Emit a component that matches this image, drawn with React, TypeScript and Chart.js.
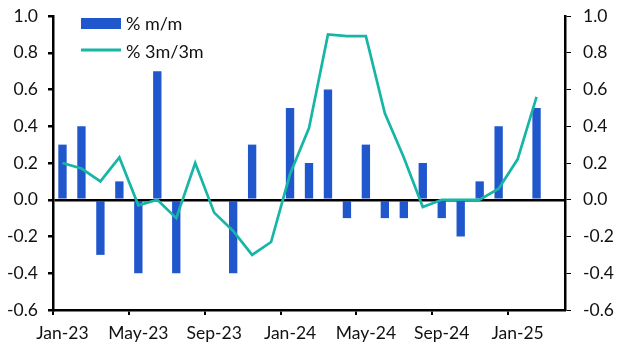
import React, { useEffect, useRef } from "react";
import { Chart, registerables } from "chart.js";

Chart.register(...registerables);

const months = [
  "Jan-23", "Feb-23", "Mar-23", "Apr-23", "May-23", "Jun-23", "Jul-23", "Aug-23", "Sep-23",
  "Oct-23", "Nov-23", "Dec-23", "Jan-24", "Feb-24", "Mar-24", "Apr-24", "May-24", "Jun-24",
  "Jul-24", "Aug-24", "Sep-24", "Oct-24", "Nov-24", "Dec-24", "Jan-25", "Feb-25", "Mar-25",
];

const momValues = [
  0.3, 0.4, -0.3, 0.1, -0.4, 0.7, -0.4, 0.0, 0.0,
  -0.4, 0.3, 0.0, 0.5, 0.2, 0.6, -0.1, 0.3, -0.1,
  -0.1, 0.2, -0.1, -0.2, 0.1, 0.4, 0.0, 0.5, null,
];

const threeMValues = [
  0.2, 0.17, 0.1, 0.23, -0.03, 0.0, -0.1, 0.2, -0.07,
  -0.17, -0.3, -0.23, 0.14, 0.39, 0.9, 0.89, 0.89, 0.47,
  0.23, -0.04, 0.0, 0.0, 0.0, 0.06, 0.22, 0.56, null,
];

const shownXLabels = ["Jan-23", "May-23", "Sep-23", "Jan-24", "May-24", "Sep-24", "Jan-25"];
const yMin = -0.6;
const yMax = 1.0;
const yStep = 0.2;

const seriesNames = ["% m/m", "% 3m/3m"];
const BLUE = "#2057CC";
const TEAL = "#17B5A6";
const FONT = "Lato";

const legendPlugin = {
  id: "customLegend",
  afterDraw(chart: any) {
    const { ctx, chartArea } = chart;
    const x = chartArea.left + 28;
    const y = chartArea.top;
    ctx.save();
    ctx.fillStyle = BLUE;
    ctx.fillRect(x, y + 2, 40, 11);
    ctx.strokeStyle = TEAL;
    ctx.lineWidth = 3;
    ctx.beginPath();
    ctx.moveTo(x, y + 34);
    ctx.lineTo(x + 40, y + 34);
    ctx.stroke();
    ctx.fillStyle = "#111";
    ctx.font = `18px ${FONT}`;
    ctx.textBaseline = "middle";
    ctx.textAlign = "left";
    ctx.fillText(seriesNames[0], x + 45, y + 8);
    ctx.fillText(seriesNames[1], x + 45, y + 36);
    ctx.restore();
  },
};

export default function App() {
  const ref = useRef<HTMLCanvasElement | null>(null);

  useEffect(() => {
    if (!ref.current) return;
    const tickFont = { family: FONT, size: 17.5 };
    const chart = new Chart(ref.current, {
      type: "bar",
      data: {
        labels: months,
        datasets: [
          {
            type: "bar",
            label: seriesNames[0],
            data: momValues,
            backgroundColor: BLUE,
            borderWidth: 0,
            barPercentage: 0.44,
            categoryPercentage: 1.0,
            yAxisID: "y",
            order: 2,
          },
          {
            type: "line",
            label: seriesNames[1],
            data: threeMValues,
            borderColor: TEAL,
            backgroundColor: TEAL,
            borderWidth: 2.7,
            pointRadius: 0,
            tension: 0,
            yAxisID: "y2",
            order: 1,
          } as any,
        ],
      },
      options: {
        animation: false,
        responsive: false,
        maintainAspectRatio: false,
        layout: { padding: { top: 16, right: 0, left: 0, bottom: 0 } },
        plugins: {
          legend: { display: false },
          tooltip: { enabled: false },
        },
        scales: {
          x: {
            offset: true,
            grid: {
              offset: true,
              drawOnChartArea: false,
              tickLength: 5,
              lineWidth: 2,
              tickColor: (c: any) => {
                const lbl = months[c.index];
                return lbl && shownXLabels.includes(lbl) ? "#000" : "rgba(0,0,0,0)";
              },
            },
            border: { color: "#000", width: 2.5 },
            ticks: {
              autoSkip: false,
              maxRotation: 0,
              minRotation: 0,
              color: "#111",
              font: tickFont,
              padding: 8,
              callback: (_v: any, i: number) => (shownXLabels.includes(months[i]) ? months[i] : ""),
            },
            afterFit: (s: any) => {
              s.height = 43;
            },
          },
          y: {
            position: "left",
            min: yMin,
            max: yMax,
            grid: {
              drawOnChartArea: true,
              color: (c: any) => (c.tick && Math.abs(c.tick.value) < 1e-9 ? "#000" : "rgba(0,0,0,0)"),
              lineWidth: 2.5,
              tickColor: "#000",
              tickLength: 5,
            },
            border: { color: "#000", width: 2.5 },
            ticks: {
              stepSize: yStep,
              color: "#111",
              font: tickFont,
              padding: 10,
              callback: (v: any) => Number(v).toFixed(1),
            },
            afterFit: (s: any) => {
              s.width = 53;
              s.paddingTop = 0;
              s.paddingBottom = 0;
            },
          },
          y2: {
            position: "right",
            min: yMin,
            max: yMax,
            grid: { drawOnChartArea: false, tickColor: "#000", tickLength: 6 },
            border: { color: "#000", width: 2.5 },
            ticks: {
              stepSize: yStep,
              color: "#111",
              font: tickFont,
              padding: 12,
              callback: (v: any) => Number(v).toFixed(1),
            },
            afterFit: (s: any) => {
              s.width = 62;
              s.paddingTop = 0;
              s.paddingBottom = 0;
            },
          },
        },
      },
      plugins: [legendPlugin],
    });
    return () => chart.destroy();
  }, []);

  return (
    <div style={{ position: "fixed", left: 0, top: 0, width: 627, height: 353, background: "#fff" }}>
      <canvas ref={ref} width={627} height={353} style={{ width: 627, height: 353 }} />
    </div>
  );
}
